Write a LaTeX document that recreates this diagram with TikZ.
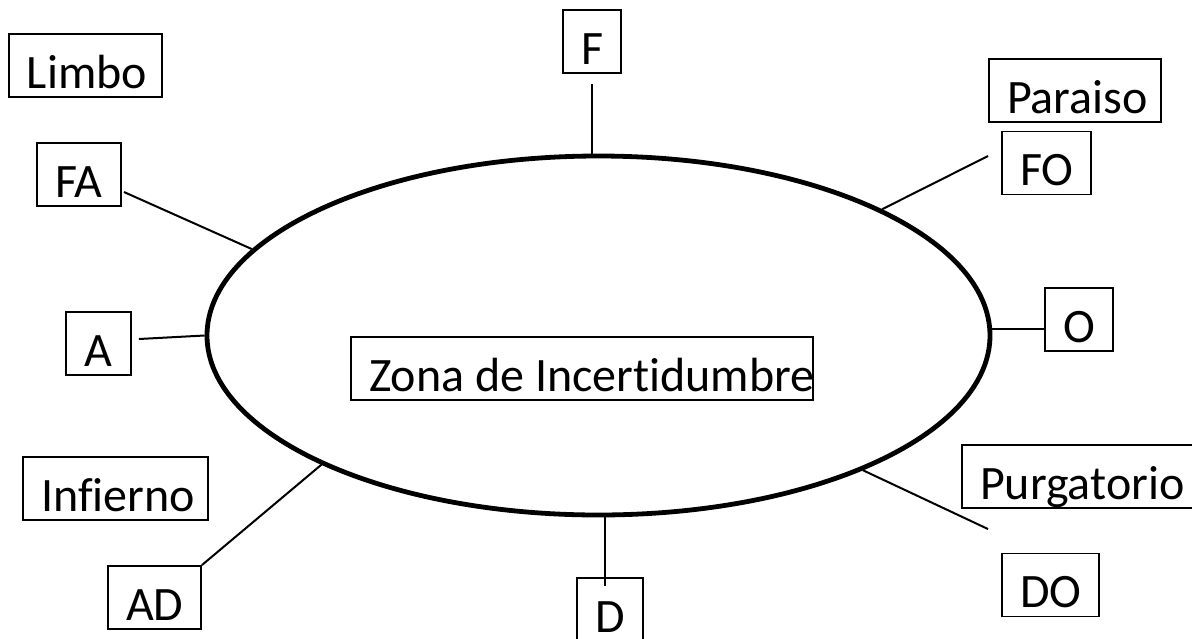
\documentclass[tikz,border=0pt]{standalone}
\usepackage{fontspec}
\setmainfont{Carlito}[Ligatures=NoCommon]
\usetikzlibrary{shapes.geometric,calc}
\begin{document}
\begin{tikzpicture}[x=1pt,y=-1pt,
  lbl/.style={draw, line width=1.9pt, inner xsep=0pt, inner ysep=0pt,
    text height=54pt, text depth=9pt, minimum width=#1,
    font=\fontsize{48}{58}\selectfont},
  conn/.style={line width=2pt},
  zonestyle/.style={draw, ellipse, line width=4.8pt, minimum width=783pt,
    minimum height=359pt, inner sep=0pt}]
\newcommand\boxtext[2]{\makebox[#1][l]{\hspace*{18pt}#2}}
\useasboundingbox (0,0) rectangle (1192,638);
\fill[white] (0,0) rectangle (1192,638);

\node[zonestyle] (zone) at (598.5,335.5) {};

\node[lbl=153pt] (limbo) at (85.5,65.5) {\boxtext{153pt}{Limbo}};
\node[lbl=84pt] (fa) at (79,174.5) {\boxtext{84pt}{FA}};
\node[lbl=58pt] (f) at (592,41.5) {\boxtext{58pt}{F}};
\node[lbl=172pt] (paraiso) at (1075,90.5) {\boxtext{172pt}{Paraiso}};
\node[lbl=89pt] (fo) at (1046.5,163) {\boxtext{89pt}{FO}};
\node[lbl=65pt] (a) at (98.5,343.5) {\boxtext{65pt}{A}};
\node[lbl=68pt] (o) at (1079,319.5) {\boxtext{68pt}{O}};
\node[lbl=185pt] (infierno) at (115.5,488.5) {\boxtext{185pt}{Infierno}};
\node[lbl=93pt] (ad) at (154.5,597.5) {\boxtext{93pt}{AD}};
\node[lbl=245pt] (purg) at (1084.5,476.5) {\boxtext{245pt}{Purgatorio}};
\node[lbl=97pt] (do) at (1050.5,585) {\boxtext{97pt}{DO}};
\node[lbl=66pt] (d) at (610,609.5) {\boxtext{66pt}{D}};
\node[lbl=462pt] (zona) at (582,368.5) {\boxtext{462pt}{Zona de Incertidumbre}};

\coordinate (fastart) at ($(fa.east)+(2,17.5)$);
\coordinate (fstart) at ($(f.south)+(0,10)$);
\coordinate (fostart) at ($(fo.west)+(-13,-7)$);
\coordinate (astart) at ($(a.east)+(7,-4.5)$);
\coordinate (pend) at ($(do.north west)+(-13,-23.5)$);
\coordinate (dend) at ($(d.north)+(0,9)$);

\draw[conn] (fastart) -- (zone.166.5);
\draw[conn] (fstart) -- (fstart |- zone.north);
\draw[conn] (fostart) -- (zone.24.6);
\draw[conn] (zone.1.5) -- (zone.1.5 -| o.west);
\draw[conn] (astart) -- (zone.180.5);
\draw[conn] (ad.north east) -- (zone.205.3);
\draw[conn] (zone.333) -- (pend);
\draw[conn] (zone.272.4) -- (zone.272.4 |- dend);
\end{tikzpicture}
\end{document}
